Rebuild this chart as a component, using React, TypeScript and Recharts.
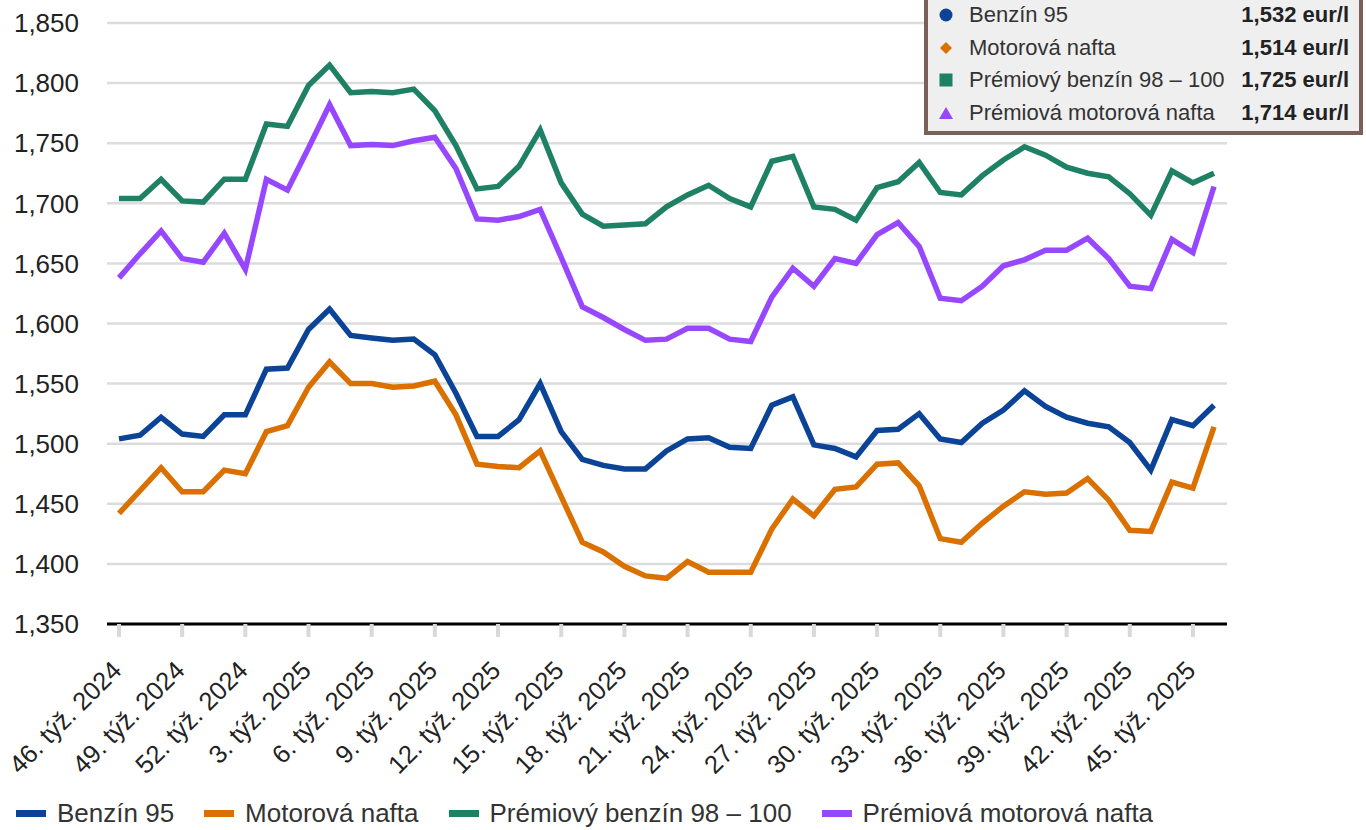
import React from 'react';
import { LineChart, Line, XAxis, YAxis, CartesianGrid, Legend } from 'recharts';

const weeks = [
  '46. týž. 2024', '47. týž. 2024', '48. týž. 2024', '49. týž. 2024', '50. týž. 2024', '51. týž. 2024', '52. týž. 2024',
  '1. týž. 2025', '2. týž. 2025', '3. týž. 2025', '4. týž. 2025', '5. týž. 2025', '6. týž. 2025', '7. týž. 2025',
  '8. týž. 2025', '9. týž. 2025', '10. týž. 2025', '11. týž. 2025', '12. týž. 2025', '13. týž. 2025', '14. týž. 2025',
  '15. týž. 2025', '16. týž. 2025', '17. týž. 2025', '18. týž. 2025', '19. týž. 2025', '20. týž. 2025', '21. týž. 2025',
  '22. týž. 2025', '23. týž. 2025', '24. týž. 2025', '25. týž. 2025', '26. týž. 2025', '27. týž. 2025', '28. týž. 2025',
  '29. týž. 2025', '30. týž. 2025', '31. týž. 2025', '32. týž. 2025', '33. týž. 2025', '34. týž. 2025', '35. týž. 2025',
  '36. týž. 2025', '37. týž. 2025', '38. týž. 2025', '39. týž. 2025', '40. týž. 2025', '41. týž. 2025', '42. týž. 2025',
  '43. týž. 2025', '44. týž. 2025', '45. týž. 2025', '46. týž. 2025',
];

const benzin95 = [
  1.504, 1.507, 1.522, 1.508, 1.506, 1.524, 1.524, 1.562, 1.563, 1.595, 1.612, 1.590, 1.588, 1.586,
  1.587, 1.574, 1.542, 1.506, 1.506, 1.520, 1.550, 1.510, 1.487, 1.482, 1.479, 1.479, 1.494, 1.504,
  1.505, 1.497, 1.496, 1.532, 1.539, 1.499, 1.496, 1.489, 1.511, 1.512, 1.525, 1.504, 1.501, 1.517,
  1.528, 1.544, 1.531, 1.522, 1.517, 1.514, 1.501, 1.478, 1.520, 1.515, 1.532,
];

const motorovaNafta = [
  1.442, 1.461, 1.480, 1.460, 1.460, 1.478, 1.475, 1.510, 1.515, 1.547, 1.568, 1.550, 1.550, 1.547,
  1.548, 1.552, 1.524, 1.483, 1.481, 1.480, 1.494, 1.456, 1.418, 1.410, 1.398, 1.390, 1.388, 1.402,
  1.393, 1.393, 1.393, 1.429, 1.454, 1.440, 1.462, 1.464, 1.483, 1.484, 1.465, 1.421, 1.418, 1.434,
  1.448, 1.460, 1.458, 1.459, 1.471, 1.453, 1.428, 1.427, 1.468, 1.463, 1.514,
];

const premiovyBenzin = [
  1.704, 1.704, 1.720, 1.702, 1.701, 1.720, 1.720, 1.766, 1.764, 1.798, 1.815, 1.792, 1.793, 1.792,
  1.795, 1.777, 1.748, 1.712, 1.714, 1.731, 1.761, 1.717, 1.691, 1.681, 1.682, 1.683, 1.697, 1.707,
  1.715, 1.704, 1.697, 1.735, 1.739, 1.697, 1.695, 1.686, 1.713, 1.718, 1.734, 1.709, 1.707, 1.723,
  1.736, 1.747, 1.740, 1.730, 1.725, 1.722, 1.708, 1.690, 1.727, 1.717, 1.725,
];

const premiovaNafta = [
  1.638, 1.658, 1.677, 1.654, 1.651, 1.675, 1.645, 1.720, 1.711, 1.746, 1.782, 1.748, 1.749, 1.748,
  1.752, 1.755, 1.729, 1.687, 1.686, 1.689, 1.695, 1.655, 1.614, 1.605, 1.595, 1.586, 1.587, 1.596,
  1.596, 1.587, 1.585, 1.622, 1.646, 1.631, 1.654, 1.650, 1.674, 1.684, 1.664, 1.621, 1.619, 1.631,
  1.648, 1.653, 1.661, 1.661, 1.671, 1.654, 1.631, 1.629, 1.670, 1.659, 1.714,
];

const yTicks = [1.35, 1.4, 1.45, 1.5, 1.55, 1.6, 1.65, 1.7, 1.75, 1.8, 1.85];

const seriesNames = ['Benzín 95', 'Motorová nafta', 'Prémiový benzín 98 – 100', 'Prémiová motorová nafta'];
const seriesKeys = ['b95', 'nafta', 'pb', 'pn'];
const seriesColors = ['#0b4397', '#d97000', '#1e8064', '#9747ff'];
const seriesValues = [benzin95, motorovaNafta, premiovyBenzin, premiovaNafta];
const seriesIcons = ['circle', 'diamond', 'square', 'triangle'];

const data = weeks.map((w, i) => {
  const row: Record<string, string | number> = { week: w };
  seriesKeys.forEach((k, s) => {
    row[k] = seriesValues[s][i];
  });
  return row;
});

const FONT = "Arial, 'Liberation Sans', Helvetica, sans-serif";
const fmt = (v: number) => v.toFixed(3).replace('.', ',');

const XTick = (props: any) => {
  const { x, y, payload } = props;
  return (
    <g transform={`translate(${x + 4},${y + 33})`}>
      <text
        x={0}
        y={0}
        textAnchor="end"
        transform="rotate(-45)"
        fill="#222"
        fontSize={25.5}
        fontFamily={FONT}
      >
        {payload.value}
      </text>
    </g>
  );
};

const BottomLegend = () => (
  <div style={{ display: 'flex', alignItems: 'center', height: 34, fontFamily: FONT, fontSize: 26, color: '#333' }}>
    {seriesNames.map((n, i) => (
      <div key={n} style={{ display: 'flex', alignItems: 'center', marginRight: 30, whiteSpace: 'nowrap' }}>
        <span style={{ display: 'inline-block', width: 30, height: 7, background: seriesColors[i], marginRight: 11 }} />
        <span>{n}</span>
      </div>
    ))}
  </div>
);

const Icon = ({ kind, color }: { kind: string; color: string }) => (
  <svg width={16} height={16} viewBox="0 0 16 16" style={{ display: 'block' }}>
    {kind === 'circle' && <circle cx={8} cy={8} r={6.5} fill={color} />}
    {kind === 'diamond' && <polygon points="8,2 14,8 8,14 2,8" fill={color} />}
    {kind === 'square' && <rect x={1.5} y={1.5} width={13} height={13} fill={color} />}
    {kind === 'triangle' && <polygon points="8,2 15,14 1,14" fill={color} />}
  </svg>
);

const InfoBox = () => (
  <div
    style={{
      position: 'absolute',
      left: 924,
      top: -6,
      width: 439,
      boxSizing: 'border-box',
      border: '4px solid #7b6058',
      background: '#efefef',
      padding: '1px 10px 2px 10px',
      fontFamily: FONT,
      fontSize: 22,
      color: '#333',
    }}
  >
    {seriesNames.map((n, i) => (
      <div key={n} style={{ display: 'flex', alignItems: 'center', height: 32.5 }}>
        <div style={{ width: 31 }}>
          <Icon kind={seriesIcons[i]} color={seriesColors[i]} />
        </div>
        <div style={{ flex: 1, whiteSpace: 'nowrap' }}>{n}</div>
        <div style={{ fontWeight: 'bold', color: '#222', whiteSpace: 'nowrap' }}>
          {fmt(seriesValues[i][seriesValues[i].length - 1])} eur/l
        </div>
      </div>
    ))}
  </div>
);

export default function App() {
  return (
    <div style={{ position: 'fixed', left: 0, top: 0, width: 1366, height: 830, background: '#fff', overflow: 'hidden' }}>
      <LineChart width={1366} height={830} data={data} margin={{ top: 23, right: 139, bottom: 0, left: 0 }}>
        <CartesianGrid vertical={false} stroke="#dcdcdc" strokeWidth={2.5} />
        <XAxis
          dataKey="week"
          interval={2}
          padding={{ left: 12, right: 13 }}
          axisLine={{ stroke: '#000', strokeWidth: 3 }}
          tickLine={{ stroke: '#d9d9d9', strokeWidth: 4 }}
          tickSize={13}
          tickMargin={2}
          height={172}
          tick={<XTick />}
        />
        <YAxis
          domain={[1.35, 1.85]}
          ticks={yTicks}
          tickFormatter={fmt}
          width={107}
          axisLine={false}
          tickLine={false}
          tickSize={0}
          tickMargin={28}
          tick={{ fill: '#222', fontSize: 26, fontFamily: FONT }}
        />
        <Legend
          verticalAlign="bottom"
          align="left"
          content={<BottomLegend />}
          wrapperStyle={{ left: 16, width: 'auto' }}
        />
        {seriesKeys.map((k, i) => (
          <Line
            key={k}
            type="linear"
            dataKey={k}
            name={seriesNames[i]}
            stroke={seriesColors[i]}
            strokeWidth={5.5}
            dot={false}
            activeDot={false}
            isAnimationActive={false}
          />
        ))}
      </LineChart>
      <InfoBox />
    </div>
  );
}
